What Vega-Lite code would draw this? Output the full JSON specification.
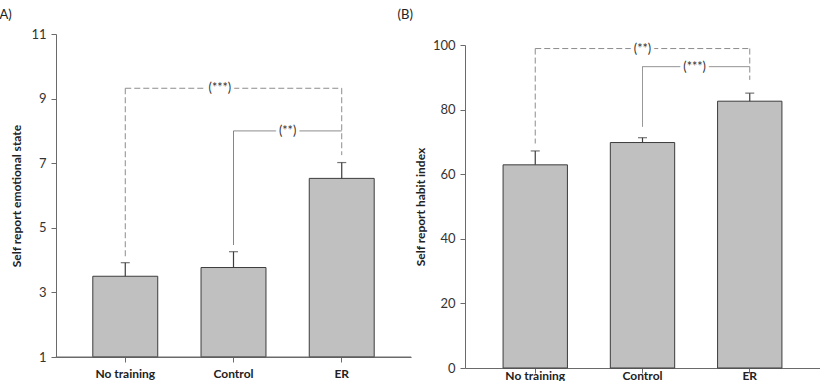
{
  "$schema": "https://vega.github.io/schema/vega-lite/v6.json",
  "background": "white",
  "padding": {"left": -5, "top": 8, "right": 0, "bottom": 0},
  "spacing": 1,
  "config": {
    "view": {"stroke": null, "fill": null},
    "font": "Lato",
    "axis": {
      "domainColor": "#6a6a6a",
      "tickColor": "#6a6a6a",
      "tickSize": 5,
      "grid": false,
      "labelFont": "Lato",
      "labelColor": "#333",
      "labelFontSize": 13,
      "titleFont": "Lato",
      "titleFontSize": 12,
      "titleFontWeight": "bold",
      "titleColor": "#222"
    },
    "axisX": {"labelFontWeight": "bold", "labelFontSize": 12, "labelColor": "#222", "labelAngle": 0, "labelPadding": 6, "title": null},
    "axisY": {"labelPadding": 5, "titlePadding": 7}
  },
  "datasets": {
    "emotion": [
      {"group": "No training", "mean": 3.5, "upper": 3.92},
      {"group": "Control", "mean": 3.77, "upper": 4.26},
      {"group": "ER", "mean": 6.53, "upper": 7.02}
    ],
    "emotionSig": [
      {"ref": "No training", "target": "ER", "level": 9.32, "refEnd": 4.1, "targetEnd": 7.25, "label": "(***)"},
      {"ref": "Control", "target": "ER", "level": 8.0, "refEnd": 4.47, "targetEnd": 8.0, "label": "(**)"}
    ],
    "habit": [
      {"group": "No training", "mean": 62.9, "upper": 67.2},
      {"group": "Control", "mean": 69.8, "upper": 71.3},
      {"group": "ER", "mean": 82.6, "upper": 85.1}
    ],
    "habitSig": [
      {"ref": "No training", "target": "ER", "level": 98.9, "refEnd": 69.5, "targetEnd": 89.2, "label": "(**)"},
      {"ref": "Control", "target": "ER", "level": 93.3, "refEnd": 74.7, "targetEnd": 93.3, "label": "(***)"}
    ],
    "panels": [
      {"panel": "(A)"},
      {"panel": "(B)"}
    ]
  },
  "hconcat": [
    {
      "width": 355,
      "height": 323,
      "encoding": {
        "x": {"field": "group", "type": "nominal", "scale": {"domain": ["No training", "Control", "ER"], "paddingInner": 0.4, "paddingOuter": 0.34}}
      },
      "layer": [
        {
          "data": {"name": "emotion"},
          "mark": {"type": "bar", "fill": "#c0c0c0", "stroke": "#3c3c3c", "strokeWidth": 1},
          "encoding": {
            "y": {"field": "mean", "type": "quantitative", "scale": {"domain": [1, 11], "zero": false, "nice": false}, "axis": {"values": [1, 3, 5, 7, 9, 11], "title": "Self report emotional state"}},
            "y2": {"datum": 1}
          }
        },
        {
          "data": {"name": "panels"},
          "transform": [{"filter": "datum.panel === '(A)'"}],
          "mark": {"type": "rule", "color": "#6a6a6a", "strokeWidth": 1},
          "encoding": {
            "x": {"datum": "No training", "type": "nominal", "bandPosition": -0.57},
            "x2": {"datum": "ER", "bandPosition": 1.57},
            "y": {"datum": 1, "type": "quantitative"}
          }
        },
        {
          "data": {"name": "emotion"},
          "mark": {"type": "rule", "color": "#3c3c3c", "strokeWidth": 1.2},
          "encoding": {
            "y": {"field": "mean", "type": "quantitative"},
            "y2": {"field": "upper"}
          }
        },
        {
          "data": {"name": "emotion"},
          "mark": {"type": "tick", "orient": "horizontal", "size": 9, "thickness": 1.2, "color": "#3c3c3c"},
          "encoding": {
            "y": {"field": "upper", "type": "quantitative"}
          }
        },
        {
          "data": {"name": "emotionSig"},
          "mark": {"type": "rule", "strokeWidth": 1},
          "encoding": {
            "x": {"field": "ref", "type": "nominal"},
            "x2": {"field": "target"},
            "y": {"field": "level", "type": "quantitative"},
            "color": {"field": "ref", "type": "nominal", "scale": {"domain": ["No training", "Control"], "range": ["#8c8c8c", "#7a7a7a"]}, "legend": null},
            "strokeDash": {"field": "ref", "type": "nominal", "scale": {"domain": ["No training", "Control"], "range": [[6, 3], [1, 0]]}, "legend": null}
          }
        },
        {
          "data": {"name": "emotionSig"},
          "mark": {"type": "rule", "strokeWidth": 1},
          "encoding": {
            "x": {"field": "ref", "type": "nominal"},
            "y": {"field": "level", "type": "quantitative"},
            "y2": {"field": "refEnd"},
            "color": {"field": "ref", "type": "nominal", "legend": null},
            "strokeDash": {"field": "ref", "type": "nominal", "legend": null}
          }
        },
        {
          "data": {"name": "emotionSig"},
          "mark": {"type": "rule", "strokeWidth": 1},
          "encoding": {
            "x": {"field": "target", "type": "nominal"},
            "y": {"field": "level", "type": "quantitative"},
            "y2": {"field": "targetEnd"},
            "color": {"field": "ref", "type": "nominal", "legend": null},
            "strokeDash": {"field": "ref", "type": "nominal", "legend": null}
          }
        },
        {
          "data": {"name": "emotionSig"},
          "transform": [{"filter": "datum.ref === 'No training'"}],
          "mark": {"type": "text", "fontSize": 12.5, "baseline": "middle", "stroke": "white", "strokeWidth": 7, "color": "white"},
          "encoding": {
            "x": {"datum": "Control", "type": "nominal", "bandPosition": 0.29},
            "y": {"field": "level", "type": "quantitative"},
            "text": {"field": "label"}
          }
        },
        {
          "data": {"name": "emotionSig"},
          "transform": [{"filter": "datum.ref === 'No training'"}],
          "mark": {"type": "text", "fontSize": 12.5, "baseline": "middle", "color": "#333"},
          "encoding": {
            "x": {"datum": "Control", "type": "nominal", "bandPosition": 0.29},
            "y": {"field": "level", "type": "quantitative"},
            "text": {"field": "label"}
          }
        },
        {
          "data": {"name": "emotionSig"},
          "transform": [{"filter": "datum.ref === 'Control'"}],
          "mark": {"type": "text", "fontSize": 12.5, "baseline": "middle", "stroke": "white", "strokeWidth": 7, "color": "white"},
          "encoding": {
            "x": {"datum": "Control", "type": "nominal", "bandPosition": 1.333},
            "y": {"field": "level", "type": "quantitative"},
            "text": {"field": "label"}
          }
        },
        {
          "data": {"name": "emotionSig"},
          "transform": [{"filter": "datum.ref === 'Control'"}],
          "mark": {"type": "text", "fontSize": 12.5, "baseline": "middle", "color": "#333"},
          "encoding": {
            "x": {"datum": "Control", "type": "nominal", "bandPosition": 1.333},
            "y": {"field": "level", "type": "quantitative"},
            "text": {"field": "label"}
          }
        },
        {
          "data": {"name": "panels"},
          "transform": [{"filter": "datum.panel === '(A)'"}],
          "mark": {"type": "text", "fontSize": 13, "baseline": "middle", "align": "center", "color": "#222"},
          "encoding": {
            "x": {"datum": "No training", "type": "nominal", "bandPosition": -1.37},
            "y": {"datum": 11.59, "type": "quantitative"},
            "text": {"field": "panel"}
          }
        },
        {
          "data": {"name": "panels"},
          "transform": [{"filter": "datum.panel === '(B)'"}],
          "mark": {"type": "text", "fontSize": 13, "baseline": "middle", "align": "center", "color": "#222"},
          "encoding": {
            "x": {"datum": "ER", "type": "nominal", "bandPosition": 1.477},
            "y": {"datum": 11.59, "type": "quantitative"},
            "text": {"field": "panel"}
          }
        }
      ]
    },
    {
      "width": 355,
      "height": 334,
      "encoding": {
        "x": {"field": "group", "type": "nominal", "scale": {"domain": ["No training", "Control", "ER"], "paddingInner": 0.4, "paddingOuter": 0.355}, "axis": {"labelPadding": -3}}
      },
      "layer": [
        {
          "data": {"name": "habit"},
          "mark": {"type": "bar", "fill": "#c0c0c0", "stroke": "#3c3c3c", "strokeWidth": 1},
          "encoding": {
            "y": {"field": "mean", "type": "quantitative", "scale": {"domain": [0, 100], "nice": false, "range": [334, 11]}, "axis": {"values": [0, 20, 40, 60, 80, 100], "title": "Self report habit index", "titlePadding": 5}}
          }
        },
        {
          "data": {"name": "habit"},
          "mark": {"type": "rule", "color": "#3c3c3c", "strokeWidth": 1.2},
          "encoding": {
            "y": {"field": "mean", "type": "quantitative"},
            "y2": {"field": "upper"}
          }
        },
        {
          "data": {"name": "habit"},
          "mark": {"type": "tick", "orient": "horizontal", "size": 9, "thickness": 1.2, "color": "#3c3c3c"},
          "encoding": {
            "y": {"field": "upper", "type": "quantitative"}
          }
        },
        {
          "data": {"name": "habitSig"},
          "mark": {"type": "rule", "strokeWidth": 1},
          "encoding": {
            "x": {"field": "ref", "type": "nominal"},
            "x2": {"field": "target"},
            "y": {"field": "level", "type": "quantitative"},
            "color": {"field": "ref", "type": "nominal", "scale": {"domain": ["No training", "Control"], "range": ["#8c8c8c", "#7a7a7a"]}, "legend": null},
            "strokeDash": {"field": "ref", "type": "nominal", "scale": {"domain": ["No training", "Control"], "range": [[6, 3], [1, 0]]}, "legend": null}
          }
        },
        {
          "data": {"name": "habitSig"},
          "mark": {"type": "rule", "strokeWidth": 1},
          "encoding": {
            "x": {"field": "ref", "type": "nominal"},
            "y": {"field": "level", "type": "quantitative"},
            "y2": {"field": "refEnd"},
            "color": {"field": "ref", "type": "nominal", "legend": null},
            "strokeDash": {"field": "ref", "type": "nominal", "legend": null}
          }
        },
        {
          "data": {"name": "habitSig"},
          "mark": {"type": "rule", "strokeWidth": 1},
          "encoding": {
            "x": {"field": "target", "type": "nominal"},
            "y": {"field": "level", "type": "quantitative"},
            "y2": {"field": "targetEnd"},
            "color": {"field": "ref", "type": "nominal", "legend": null},
            "strokeDash": {"field": "ref", "type": "nominal", "legend": null}
          }
        },
        {
          "data": {"name": "habitSig"},
          "transform": [{"filter": "datum.ref === 'No training'"}],
          "mark": {"type": "text", "fontSize": 12.5, "baseline": "middle", "stroke": "white", "strokeWidth": 7, "color": "white"},
          "encoding": {
            "x": {"datum": "Control", "type": "nominal", "bandPosition": 0.5},
            "y": {"field": "level", "type": "quantitative"},
            "text": {"field": "label"}
          }
        },
        {
          "data": {"name": "habitSig"},
          "transform": [{"filter": "datum.ref === 'No training'"}],
          "mark": {"type": "text", "fontSize": 12.5, "baseline": "middle", "color": "#333"},
          "encoding": {
            "x": {"datum": "Control", "type": "nominal", "bandPosition": 0.5},
            "y": {"field": "level", "type": "quantitative"},
            "text": {"field": "label"}
          }
        },
        {
          "data": {"name": "habitSig"},
          "transform": [{"filter": "datum.ref === 'Control'"}],
          "mark": {"type": "text", "fontSize": 12.5, "baseline": "middle", "stroke": "white", "strokeWidth": 7, "color": "white"},
          "encoding": {
            "x": {"datum": "Control", "type": "nominal", "bandPosition": 1.31},
            "y": {"field": "level", "type": "quantitative"},
            "text": {"field": "label"}
          }
        },
        {
          "data": {"name": "habitSig"},
          "transform": [{"filter": "datum.ref === 'Control'"}],
          "mark": {"type": "text", "fontSize": 12.5, "baseline": "middle", "color": "#333"},
          "encoding": {
            "x": {"datum": "Control", "type": "nominal", "bandPosition": 1.31},
            "y": {"field": "level", "type": "quantitative"},
            "text": {"field": "label"}
          }
        }
      ]
    }
  ]
}
